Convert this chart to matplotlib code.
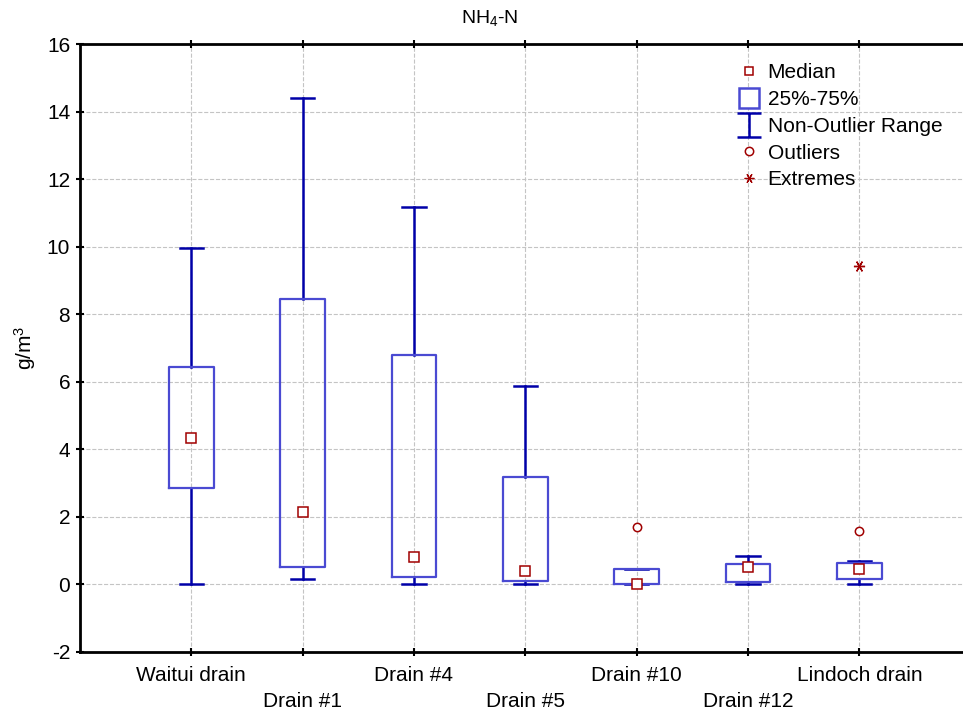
import numpy as np
import matplotlib
matplotlib.use("Agg")
import matplotlib.pyplot as plt
from matplotlib.lines import Line2D
from matplotlib.path import Path

plt.rcParams['font.family'] = ['Liberation Sans', 'DejaVu Sans']
plt.rcParams['mathtext.default'] = 'regular'
plt.rcParams['axes.unicode_minus'] = False

# NH4-N per site (g/m3): whisker low, Q1, median, Q3, whisker high
sites = ["Waitui drain", "Drain #1", "Drain #4", "Drain #5",
         "Drain #10", "Drain #12", "Lindoch drain"]
whislo = [0.02, 0.17, 0.00, 0.02, 0.00, 0.02, 0.00]
q1 = [2.84, 0.52, 0.20, 0.11, 0.02, 0.08, 0.17]
med = [4.32, 2.15, 0.82, 0.40, 0.00, 0.52, 0.46]
q3 = [6.43, 8.44, 6.78, 3.19, 0.46, 0.61, 0.64]
whishi = [9.96, 14.41, 11.17, 5.86, 0.46, 0.85, 0.70]

# outliers and extremes (site index, value)
outlier_site = [4, 6]
outlier_val = [1.71, 1.59]
extreme_site = [6]
extreme_val = [9.42]

box_col = '#4a4ad2'
whisk_col = '#0000a8'
mark_col = '#a00000'

fig = plt.figure(figsize=(9.63, 7.10), dpi=100)
ax = fig.add_axes([0.083, 0.082, 0.925, 0.856])

pos = np.arange(1, len(sites) + 1)
stats = []
for i in range(len(sites)):
    stats.append(dict(whislo=whislo[i], q1=q1[i], med=med[i], q3=q3[i],
                      whishi=whishi[i], fliers=[]))

ax.bxp(stats, positions=pos, widths=0.4, showfliers=False,
       boxprops=dict(color=box_col, linewidth=1.6, zorder=3.5),
       whiskerprops=dict(color=whisk_col, linewidth=1.8),
       capprops=dict(color=whisk_col, linewidth=1.8),
       medianprops=dict(linewidth=0), capwidths=0.21, zorder=3)

ax.plot(pos, med, 's', ms=6.5, mfc='white', mec=mark_col, mew=1.1, zorder=4)
ax.plot(pos[outlier_site], outlier_val, 'o', ms=6, mfc='white', mec=mark_col,
        mew=1.1, zorder=4)
ax.plot(pos[extreme_site], extreme_val, marker=(6, 2, 90), ls='none', ms=8,
        color=mark_col, mew=1.0, zorder=4)

ax.set_xlim(0, 8)
ax.set_ylim(-2, 16)
ax.set_yticks(np.arange(-2, 17, 2))
ax.set_xticks(pos)
ax.set_xticklabels(sites, fontsize=15)
for t in ax.xaxis.get_major_ticks()[1::2]:
    t.set_pad(26)
for t in ax.xaxis.get_major_ticks()[0::2]:
    t.set_pad(7.5)
ax.tick_params(axis='y', labelsize=15, direction='inout', length=6, width=1.5, pad=4)
ax.tick_params(axis='x', direction='inout', length=6, width=1.5)
ax.tick_params(top=True, labeltop=False)

ax.grid(True, color='#c4c4c4', linestyle='--', linewidth=0.8)
ax.set_axisbelow(True)
for s in ['left', 'bottom', 'top']:
    ax.spines[s].set_linewidth(2)
ax.spines['right'].set_visible(False)

ax.set_ylabel('g/m$^3$', fontsize=15, labelpad=6)
fig.text(0.509, 0.975, 'NH$_4$-N', fontsize=14, ha='center', va='center')

# I-shaped marker for the non-outlier range
i_path = Path([(-1, 1), (1, 1), (0, 1), (0, -1), (-1, -1), (1, -1)],
              [Path.MOVETO, Path.LINETO, Path.MOVETO, Path.LINETO,
               Path.MOVETO, Path.LINETO])

handles = [
    Line2D([], [], marker='s', ls='none', ms=6, mfc='white', mec=mark_col, mew=1.1),
    Line2D([], [], marker='s', ls='none', ms=15, mfc='white', mec=box_col, mew=1.8),
    Line2D([], [], marker=i_path, ls='none', ms=17, mec=whisk_col, mew=1.8),
    Line2D([], [], marker='o', ls='none', ms=6, mfc='white', mec=mark_col, mew=1.1),
    Line2D([], [], marker=(6, 2, 90), ls='none', ms=7, color=mark_col, mew=0.9),
]
labels = ["Median", "25%-75%", "Non-Outlier Range", "Outliers", "Extremes"]
ax.legend(handles, labels, loc='upper left', bbox_to_anchor=(0.723, 0.992),
          frameon=False, fontsize=15, handlelength=1.0, handletextpad=0.4,
          labelspacing=0.37, borderpad=0.2)

fig.savefig('out.png', dpi=100)
